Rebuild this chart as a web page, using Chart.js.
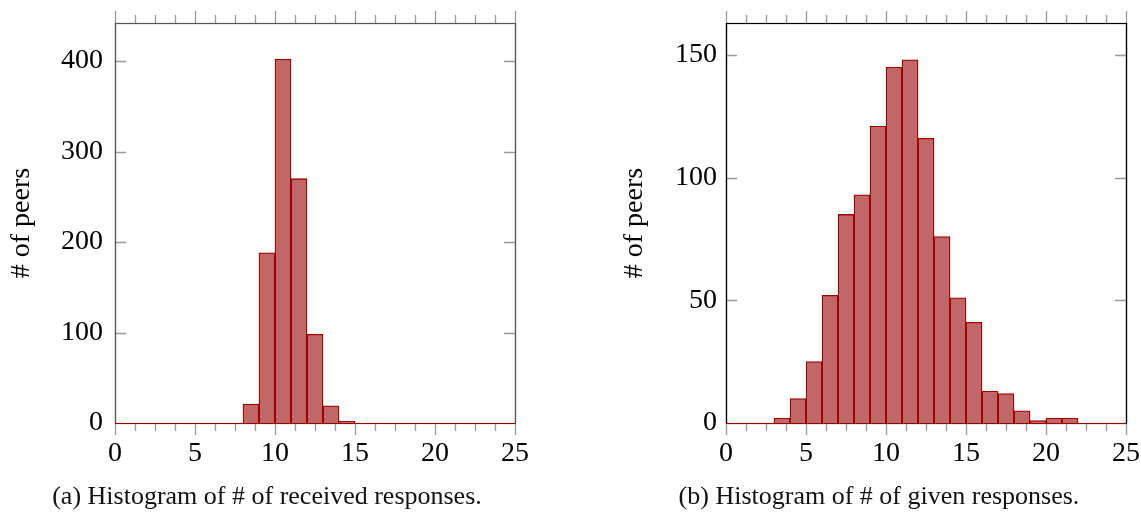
<!DOCTYPE html>
<html>
<head>
<meta charset="utf-8">
<script src="https://cdn.jsdelivr.net/npm/chart.js@4.4.1/dist/chart.umd.min.js"></script>
<style>
  body { margin: 0; background: #fff; }
  #wrap { position: relative; width: 1141px; height: 513px; overflow: hidden; }
  canvas { position: absolute; top: 0; }
  .caption {
    position: absolute; width: 600px; text-align: center;
    font-family: 'Liberation Serif', serif; font-size: 26px; color: #111;
  }
</style>
</head>
<body>
<div id="wrap">
  <canvas id="grafik1" width="570" height="513" style="left:0"></canvas>
  <canvas id="grafik2" width="571" height="513" style="left:570px"></canvas>
  <div class="caption" id="capA" style="left:-33px; top:481px">(a) Histogram of # of received responses.</div>
  <div class="caption" id="capB" style="left:579px; top:481px">(b) Histogram of # of given responses.</div>
</div>
<script>
// bin centres (bins of width 1 from 0 to 25)
const binCenters = [0.5, 1.5, 2.5, 3.5, 4.5, 5.5, 6.5, 7.5, 8.5, 9.5, 10.5, 11.5, 12.5,
  13.5, 14.5, 15.5, 16.5, 17.5, 18.5, 19.5, 20.5, 21.5, 22.5, 23.5, 24.5];

// (a) received responses
const receivedCounts = [0, 0, 0, 0, 0, 0, 0, 0, 21, 188, 402, 270, 98, 19, 2,
  0, 0, 0, 0, 0, 0, 0, 0, 0, 0];

// (b) given responses
const givenCounts = [0, 0, 0, 2, 10, 25, 52, 85, 93, 121, 145, 148, 116, 76, 51,
  41, 13, 12, 5, 1, 2, 2, 0, 0, 0];

const xTicks = [0, 5, 10, 15, 20, 25];
const yTicksA = [0, 100, 200, 300, 400];
const yTicksB = [0, 50, 100, 150];

const yMaxA = 442;
const yMaxB = 163;

const serif = "'Liberation Serif', serif";
const barFill = '#c26767';
const barEdge = '#990000';

// kutu + tik çizgileri (pgfplots görünümü)
const frameTicks = {
  id: 'frameTicks',
  beforeDatasetsDraw(chart, args, opts) {
    // sıfır yükseklikli kutular için taban çizgisi
    const ctx = chart.ctx;
    const a = chart.chartArea;
    ctx.save();
    ctx.strokeStyle = opts.boxColor;
    ctx.lineWidth = 1.2;
    ctx.strokeRect(Math.round(a.left) + 0.5, Math.round(a.top) + 0.5,
      Math.round(a.right - a.left), Math.round(a.bottom - a.top));
    ctx.restore();
  },
  afterDraw(chart, args, opts) {
    const ctx = chart.ctx;
    const a = chart.chartArea;
    const xs = chart.scales.x;
    const ys = chart.scales.y;
    ctx.save();
    ctx.lineWidth = 1.3;
    ctx.strokeStyle = '#999';
    // x minor + major ticks, top and bottom, outward
    for (let v = 0; v <= 25.001; v += 1.25) {
      const px = Math.round(xs.getPixelForValue(v)) + 0.5;
      const major = Math.abs(v % 5) < 0.001;
      const len = major ? 12 : 8;
      ctx.beginPath();
      ctx.moveTo(px, a.bottom + 1);
      ctx.lineTo(px, a.bottom + len);
      ctx.moveTo(px, a.top);
      ctx.lineTo(px, a.top - len);
      ctx.stroke();
    }
    // y ticks inward on both sides
    opts.yTicks.forEach(v => {
      if (v === 0) return;
      const py = Math.round(ys.getPixelForValue(v)) + 0.5;
      ctx.beginPath();
      ctx.moveTo(a.left, py);
      ctx.lineTo(a.left + 11, py);
      ctx.moveTo(a.right, py);
      ctx.lineTo(a.right - 11, py);
      ctx.stroke();
    });
    // baseline in bar colour, as in the source
    ctx.strokeStyle = barEdge;
    ctx.lineWidth = 1.2;
    const by = Math.round(ys.getPixelForValue(0)) + 0.5;
    ctx.beginPath();
    ctx.moveTo(a.left, by);
    ctx.lineTo(a.right, by);
    ctx.stroke();
    ctx.strokeStyle = opts.boxColor;
    ctx.beginPath();
    ctx.moveTo(Math.round(a.left) + 0.5, a.top);
    ctx.lineTo(Math.round(a.left) + 0.5, a.bottom);
    ctx.moveTo(Math.round(a.right) + 0.5, a.top);
    ctx.lineTo(Math.round(a.right) + 0.5, a.bottom);
    ctx.moveTo(a.left, Math.round(a.top) + 0.5);
    ctx.lineTo(a.right, Math.round(a.top) + 0.5);
    ctx.stroke();
    ctx.restore();
  }
};

function histogramYap(canvasId, counts, yMax, yTicks, opts) {
  const ctx = document.getElementById(canvasId).getContext('2d');
  return new Chart(ctx, {
    type: 'bar',
    data: {
      datasets: [{
        data: binCenters.map((c, i) => ({ x: c, y: counts[i] })),
        backgroundColor: barFill,
        borderColor: barEdge,
        borderWidth: 1.3,
        barPercentage: 1,
        categoryPercentage: 1
      }]
    },
    options: {
      responsive: false,
      animation: false,
      devicePixelRatio: 1,
      layout: { padding: opts.padding },
      plugins: {
        legend: { display: false },
        tooltip: { enabled: false },
        frameTicks: { yTicks: yTicks, boxColor: opts.boxColor }
      },
      scales: {
        x: {
          type: 'linear',
          offset: false,
          min: 0,
          max: 25,
          afterBuildTicks: s => { s.ticks = xTicks.map(v => ({ value: v })); },
          afterFit: s => { s.height = 40; s.paddingLeft = 0; s.paddingRight = 0; },
          grid: { display: false, drawTicks: false },
          border: { display: false },
          ticks: {
            color: '#000',
            padding: 14,
            maxRotation: 0,
            font: { family: serif, size: 28 }
          }
        },
        y: {
          min: 0,
          max: yMax,
          afterBuildTicks: s => { s.ticks = yTicks.map(v => ({ value: v })); },
          afterFit: s => { s.width = opts.yWidth; s.paddingTop = 0; s.paddingBottom = 0; },
          grid: { display: false, drawTicks: false },
          border: { display: false },
          ticks: {
            color: '#000',
            padding: opts.yLabelPad,
            font: { family: serif, size: 28 }
          },
          title: {
            display: true,
            text: '# of peers',
            color: '#000',
            padding: { top: opts.titlePad, bottom: 0 },
            font: { family: serif, size: 28 }
          }
        }
      }
    },
    plugins: [frameTicks]
  });
}

let grafikChart1 = histogramYap('grafik1', receivedCounts, yMaxA, yTicksA, {
  padding: { left: 0, top: 23, right: 55, bottom: 50 },
  yWidth: 115,
  yLabelPad: 12,
  titlePad: 5,
  boxColor: '#555'
});

let grafikChart2 = histogramYap('grafik2', givenCounts, yMaxB, yTicksB, {
  padding: { left: 0, top: 23, right: 15, bottom: 50 },
  yWidth: 156,
  yLabelPad: 9,
  titlePad: 48,
  boxColor: '#000'
});
</script>
</body>
</html>
